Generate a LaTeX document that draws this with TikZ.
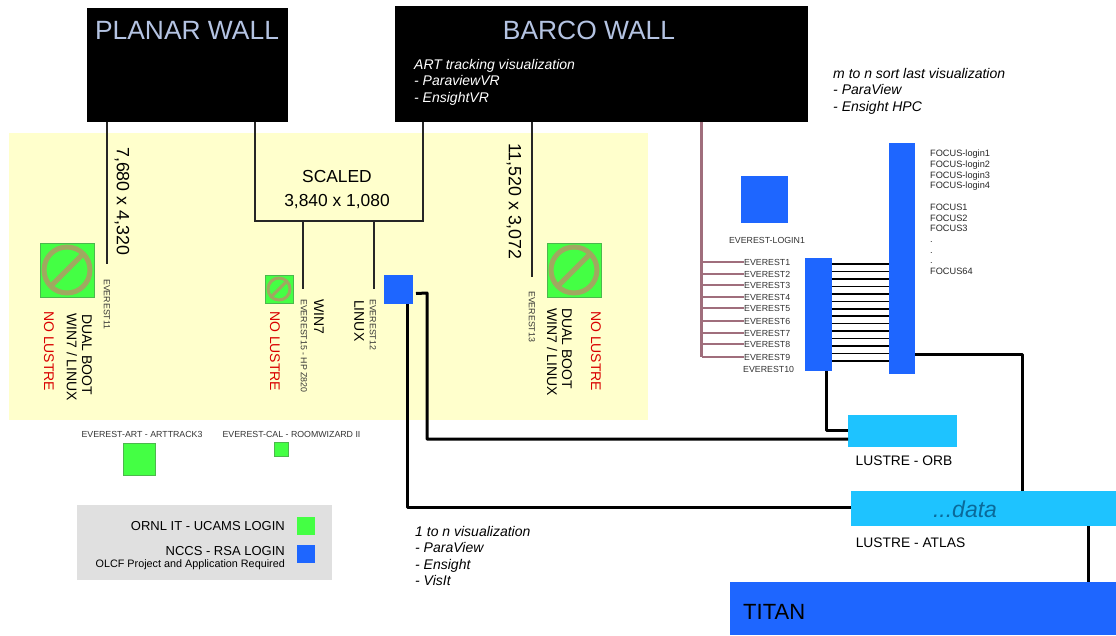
\documentclass[tikz,border=0pt]{standalone}
\usepackage{fontspec}
\setmainfont{Liberation Sans}
\usetikzlibrary{positioning, calc}
\definecolor{panelyellow}{HTML}{FFFFCC}
\definecolor{loginblue}{HTML}{1E66FF}
\definecolor{logingreen}{HTML}{44FF44}
\definecolor{lustrecyan}{HTML}{1EC3FF}
\definecolor{signolive}{HTML}{A0A860}
\definecolor{wallblue}{HTML}{B4C3E2}
\definecolor{linkpink}{HTML}{A06E7C}
\definecolor{legendgray}{HTML}{E0E0E0}
\definecolor{datateal}{HTML}{0A6A9A}
\newcommand{\fs}[1]{\fontsize{#1}{#1}\selectfont}
\begin{document}
\begin{tikzpicture}[
        x=1pt, y=-1pt,
        font=\fs{10},
        box/.style={rectangle, anchor=north west, inner sep=0pt, outer sep=0pt},
        wall/.style={box, fill=black},
        walltitle/.style={text=wallblue, font=\fs{26.4}},
        bluebox/.style={box, fill=loginblue},
        greenbox/.style={box, fill=logingreen, draw=green!60!black!70},
        lustre/.style={box, fill=lustrecyan},
        nosign/.style={circle, draw=signolive, line width=5pt, inner sep=0pt, outer sep=0pt},
        slash/.style={draw=signolive, line width=5pt},
        vert/.style={rotate=-90, anchor=west, inner sep=0pt},
        vtiny/.style={vert, font=\fs{8.8}, text=black!80},
        vmid/.style={vert, font=\fs{14}},
        vbig/.style={vert, font=\fs{17.8}},
        nolustre/.style={vmid, text=red!85!black},
        smalllabel/.style={font=\fs{8.8}, text=black!80, inner sep=0pt},
        note/.style={anchor=north west, align=left, inner sep=0pt, font=\fontsize{14}{16.4}\itshape\selectfont},
        thin link/.style={line width=1.6pt, draw=black!85},
        thick link/.style={line width=3pt, line join=round},
        pink link/.style={line width=1.2pt, draw=linkpink}
    ]
        \useasboundingbox (0,0) rectangle (1116,635);

        % Panels
        \node [box, fill=panelyellow, minimum width=639pt, minimum height=287pt] (panel) at (9,133) {};
        \node [box, fill=legendgray, minimum width=255pt, minimum height=75pt] (legend) at (77,505) {};

        % Walls
        \node [wall, minimum width=201pt, minimum height=114pt] (planar) at (87,8) {};
        \node [wall, minimum width=413pt, minimum height=116pt] (barco) at (395,6) {};
        \node [walltitle] (planartitle) at (187,30) {PLANAR WALL};
        \node [walltitle] (barcotitle) at (589,30) {BARCO WALL};
        \node [note, text=white] (barconote) at (414,59) {ART tracking visualization\\- ParaviewVR\\- EnsightVR};

        % Display nodes
        \node [greenbox, minimum size=54pt] (everest11) at (40,243) {};
        \node [nosign, minimum size=46pt] (sign11) at (everest11.center) {};
        \draw [slash] (sign11.south west) -- (sign11.north east);
        \node [greenbox, minimum size=54pt] (everest13) at (547,243) {};
        \node [nosign, minimum size=46pt] (sign13) at (everest13.center) {};
        \draw [slash] (sign13.south west) -- (sign13.north east);
        \node [greenbox, minimum size=28pt] (everest15) at (265,275) {};
        \node [nosign, line width=3pt, minimum size=22pt] (sign15) at (everest15.center) {};
        \draw [slash, line width=3pt] (sign15.south west) -- (sign15.north east);
        \node [bluebox, minimum size=29pt] (everest12) at (384,275) {};

        \node [vbig] (planarres) at (122,147) {7,680 x 4,320};
        \node [vbig] (barcores) at (514,143) {11,520 x 3,072};
        \node [font=\fs{17.4}, inner sep=0pt] (scaled) at (337,177) {SCALED};
        \node [font=\fs{17.4}, inner sep=0pt, below=11pt of scaled] (scaledres) {3,840 x 1,080};

        \node [vtiny] (label11) at (107,279) {EVEREST11};
        \node [vmid] (boot11) at (87,314) {DUAL BOOT};
        \node [vmid] (win11) at (72,313) {WIN7 / LINUX};
        \node [nolustre] (lustre11) at (49,311) {NO LUSTRE};
        \node [nolustre] (lustre15) at (275,311) {NO LUSTRE};
        \node [vtiny] (label15) at (304,299) {EVEREST15 - HP Z820};
        \node [vmid] (win15) at (319,299) {WIN7};
        \node [vmid] (linux12) at (359,300) {LINUX};
        \node [vtiny] (label12) at (373,299) {EVEREST12};
        \node [vtiny] (label13) at (532,291) {EVEREST13};
        \node [vmid] (boot13) at (567,308) {DUAL BOOT};
        \node [vmid] (win13) at (552,308) {WIN7 / LINUX};
        \node [nolustre] (lustre13) at (596,311) {NO LUSTRE};

        % Devices below the panel
        \node [smalllabel] (artlabel) at (142,434) {EVEREST-ART - ARTTRACK3};
        \node [greenbox, minimum size=32pt] (art) at (123,443) {};
        \node [smalllabel] (callabel) at (291.5,434) {EVEREST-CAL - ROOMWIZARD II};
        \node [greenbox, minimum size=14pt] (cal) at (274,442) {};

        % Legend
        \node [box, fill=logingreen, minimum size=18pt] (keygreen) at (297,517) {};
        \node [box, fill=loginblue, minimum size=18pt] (keyblue) at (297,545) {};
        \node [anchor=east, inner sep=0pt, font=\fs{13}] (keyornl) at (285,526) {ORNL IT - UCAMS LOGIN};
        \node [anchor=east, inner sep=0pt, font=\fs{13}] (keynccs) at (285,551) {NCCS - RSA LOGIN};
        \node [anchor=east, inner sep=0pt, font=\fs{10.8}] (keyolcf) at (285,565) {OLCF Project and Application Required};

        % Everest and Focus
        \node [bluebox, minimum size=47pt] (login) at (741,176) {};
        \node [smalllabel] (loginlabel) at (767,240) {EVEREST-LOGIN1};
        \node [bluebox, minimum width=27pt, minimum height=113pt] (everest) at (805,258) {};
        \node [bluebox, minimum width=26pt, minimum height=231pt] (focus) at (889,143) {};
        \node [anchor=north west, align=left, inner sep=0pt, font=\fontsize{9.2}{10.7}\selectfont, text=black!85] (focuslabel) at (930,150)
            {FOCUS-login1\\FOCUS-login2\\FOCUS-login3\\FOCUS-login4\\[10.7pt]FOCUS1\\FOCUS2\\FOCUS3\\.\\.\\.\\FOCUS64};
        \node [note] (sortnote) at (833,68) {m to n sort last visualization\\- ParaView\\- Ensight HPC};
        \node [note] (onenote) at (415,526) {1 to n visualization\\- ParaView\\- Ensight\\- VisIt};

        % Storage
        \node [lustre, minimum width=109pt, minimum height=32pt] (orb) at (848,415) {};
        \node [font=\fs{13.8}, inner sep=0pt] (orblabel) at (904,461) {LUSTRE - ORB};
        \node [lustre, minimum width=265pt, minimum height=35pt] (atlas) at (851,491) {};
        \node [font=\fs{23}\itshape, text=datateal, inner sep=0pt] (data) at (965,509) {...data};
        \node [font=\fs{13.8}, inner sep=0pt] (atlaslabel) at (910.5,543) {LUSTRE - ATLAS};
        \node [bluebox, minimum width=386pt, minimum height=53pt] (titan) at (730,582) {};
        \node [font=\fs{22}, inner sep=0pt, anchor=west] (titanlabel) at (743,612) {TITAN};

        % Free ends
        \coordinate (planarend) at (107,264);
        \coordinate (barcoend) at (532,277);
        \coordinate (scaledleft) at (255,221);
        \coordinate (scaledright) at (423,221);
        \coordinate (win7end) at (303,289);
        \coordinate (linuxend) at (374,289);
        \coordinate (pinkstart) at (701.5,122);

        % Edges
        \draw [thin link] (planar.south -| planarend) -- (planarend);
        \draw [thin link] (barco.south -| barcoend) -- (barcoend);
        \draw [thin link] (barco.south -| scaledright) -- (scaledright) -- (scaledleft) -- (planar.south -| scaledleft);
        \draw [thin link] (win7end |- scaledleft) -- (win7end);
        \draw [thin link] (linuxend |- scaledleft) -- (linuxend);

        \draw [thick link] (everest12.south -| 407,0) -- (407,507) -- (atlas.west |- 0,507);
        \draw [thick link] ($(everest12.east)+(3,4)$) -- (427,293) -- (427,439) -- (orb.west |- 0,439);
        \draw [thick link] (everest.south -| 826.5,0) -- (826.5,430) -- (orb.west |- 0,430);
        \draw [thick link] (focus.east |- 0,354) -- (1022,354) -- (atlas.north -| 1022,0);
        \draw [thick link] (atlas.south -| 1088,0) -- (titan.north -| 1088,0);

        \draw [pink link, line width=2.2pt] (pinkstart) -- (701.5,357);
        \foreach \n/\y in {1/262, 2/274, 3/285, 4/297, 5/308, 6/321, 7/333, 8/344, 9/357} {
            \node [smalllabel, anchor=west] (host\n) at (744,\y) {EVEREST\n};
            \draw [pink link] (701.5,\y) -- (host\n.west);
        }
        \node [smalllabel, anchor=west] (host10) at (743,369) {EVEREST10};

        \foreach \i in {0,...,13} {
            \draw [line width=1.5pt] (everest.east |- 0,{264+\i*7.46}) -- (focus.west |- 0,{264+\i*7.46});
        }
    \end{tikzpicture}
\end{document}
